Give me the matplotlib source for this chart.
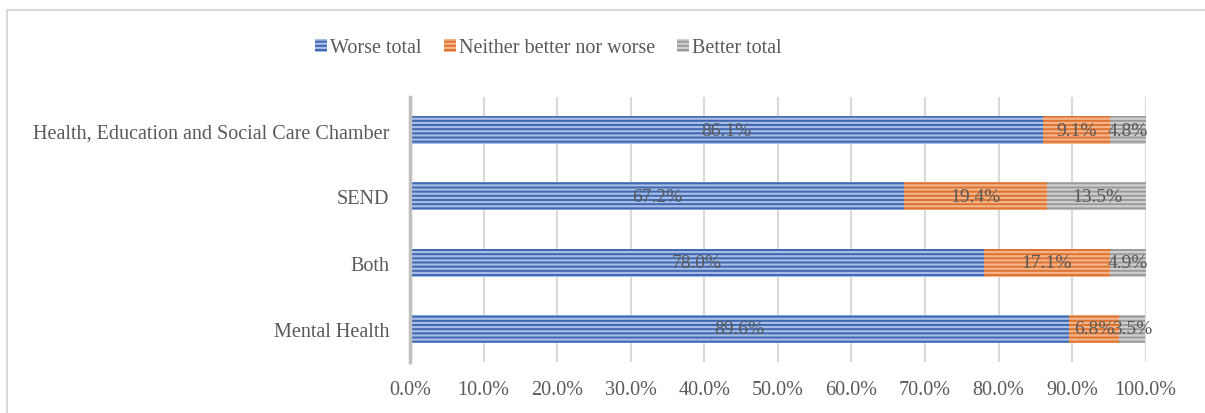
import matplotlib
matplotlib.use("Agg")
import matplotlib.pyplot as plt
from matplotlib.patches import Rectangle
import numpy as np

plt.rcParams['font.family'] = ['Liberation Serif', 'DejaVu Serif']
plt.rcParams['hatch.linewidth'] = 1.6

categories = ["Health, Education and Social Care Chamber", "SEND", "Both", "Mental Health"]
worse = [86.1, 67.2, 78.0, 89.6]
neither = [9.1, 19.4, 17.1, 6.8]
better = [4.8, 13.5, 4.9, 3.5]
series_names = ["Worse total", "Neither better nor worse", "Better total"]

face_cols = ['#3F67B0', '#DE7330', '#9A9A9A']
stripe_cols = ['#A6BDE6', '#F3B48A', '#CFCFCF']
text_col = '#595959'

fig = plt.figure(figsize=(12.05, 4.14), dpi=100)
ax = fig.add_axes([0.3402, 0.1232, 0.6106, 0.6400])

y = np.arange(len(categories))
left = np.zeros(len(categories))
for vals, name, fc, sc in zip([worse, neither, better], series_names, face_cols, stripe_cols):
    ax.barh(y, vals, left=left, height=0.42, color=fc, edgecolor=sc,
            linewidth=0, hatch='----', label=name, zorder=3)
    for yi, l, v in zip(y, left, vals):
        ax.text(l + v / 2, yi, f"{v:.1f}%", ha='center', va='center',
                fontsize=14, color=text_col, zorder=4)
    left = left + np.array(vals)

ax.set_xlim(0, 100)
ax.set_ylim(len(categories) - 0.5, -0.5)
ax.set_xticks(np.arange(0, 101, 10))
ax.set_xticklabels([f"{t:.1f}%" for t in np.arange(0, 101, 10)])
ax.set_yticks(y)
ax.set_yticklabels(categories)
ax.tick_params(axis='both', length=0, labelsize=14.5, colors=text_col)
ax.tick_params(axis='x', pad=13)
ax.tick_params(axis='y', pad=15)
ax.xaxis.grid(True, color='#D9D9D9', linewidth=1.5, zorder=0)
ax.set_axisbelow(True)
for s in ['top', 'right', 'bottom']:
    ax.spines[s].set_visible(False)
ax.spines['left'].set_color('#BFBFBF')
ax.spines['left'].set_linewidth(2.5)
ax.spines['left'].set_zorder(5)

fig.legend(loc='center', bbox_to_anchor=(0.455, 0.882), ncol=3, frameon=False,
           fontsize=14.5, handlelength=0.6, handleheight=0.6, handletextpad=0.15,
           columnspacing=1.1, labelcolor=text_col)

fig.patches.append(Rectangle((7 / 1205, -0.1), 1.2, (414 - 10.5) / 414 + 0.1,
                             transform=fig.transFigure, fill=False,
                             edgecolor='#D9D9D9', linewidth=1.5))

fig.savefig("out.png", dpi=100)
